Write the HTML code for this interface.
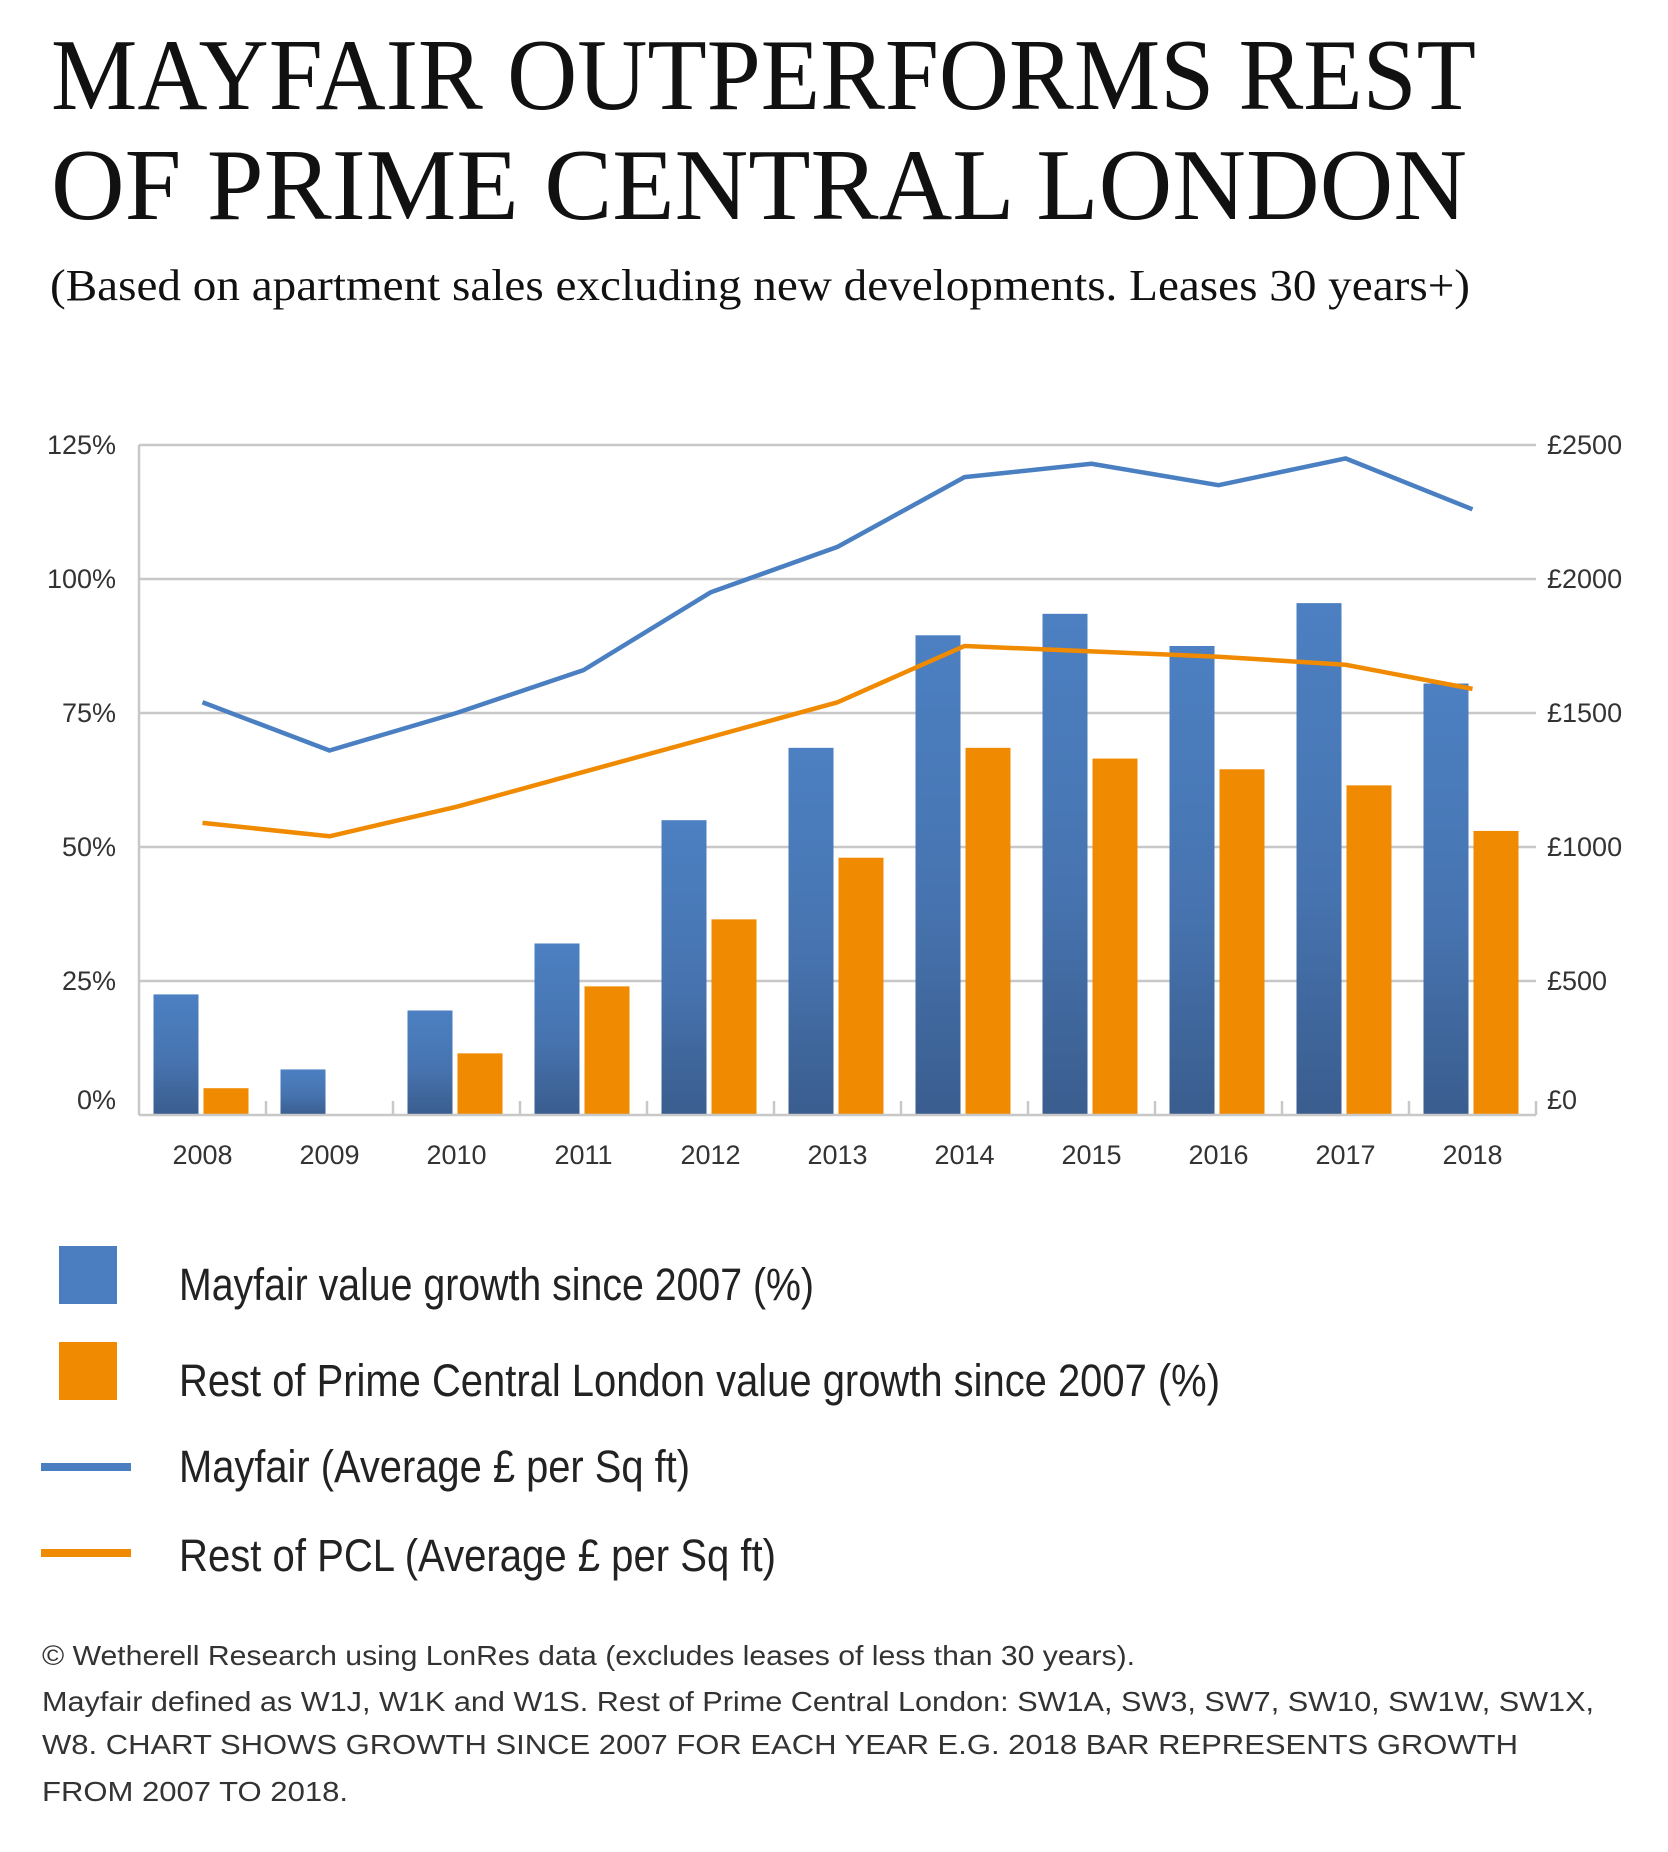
<!DOCTYPE html>
<html><head><meta charset="utf-8"><style>
html,body{margin:0;padding:0;background:#fff}
svg{display:block}
</style></head><body>
<svg width="1668" height="1852" viewBox="0 0 1668 1852" xmlns="http://www.w3.org/2000/svg">
<defs>
<linearGradient id="bg" x1="0" y1="0" x2="0" y2="1">
<stop offset="0" stop-color="#4c80c2"/><stop offset="0.55" stop-color="#4774b0"/><stop offset="1" stop-color="#3a5d8e"/>
</linearGradient>
</defs>
<g font-family="Liberation Serif, serif" fill="#111">
<text x="51" y="109" font-size="102" textLength="1425" lengthAdjust="spacingAndGlyphs">MAYFAIR OUTPERFORMS REST</text>
<text x="51" y="219" font-size="102" textLength="1416" lengthAdjust="spacingAndGlyphs">OF PRIME CENTRAL LONDON</text>
<text x="50" y="300" font-size="44" textLength="1420" lengthAdjust="spacingAndGlyphs">(Based on apartment sales excluding new developments. Leases 30 years+)</text>
</g>
<g stroke="#c8c8c8" stroke-width="2.5">
<line x1="139" y1="445" x2="1536" y2="445"/>
<line x1="139" y1="579" x2="1536" y2="579"/>
<line x1="139" y1="713" x2="1536" y2="713"/>
<line x1="139" y1="847" x2="1536" y2="847"/>
<line x1="139" y1="981" x2="1536" y2="981"/>
</g>
<g id="bars"></g>
<g stroke="#c8c8c8" stroke-width="2.5">
<line x1="139" y1="1115" x2="1536" y2="1115"/>
<line x1="139" y1="445" x2="139" y2="1115"/>
<line x1="1536" y1="1101" x2="1536" y2="1115"/>
</g>
<g font-family="Liberation Sans, sans-serif" font-size="27" fill="#333" text-anchor="end">
<text x="116" y="454">125%</text><text x="116" y="588">100%</text><text x="116" y="722">75%</text>
<text x="116" y="856">50%</text><text x="116" y="990">25%</text><text x="116" y="1109">0%</text>
</g>
<g font-family="Liberation Sans, sans-serif" font-size="27" fill="#333">
<text x="1547" y="454">£2500</text><text x="1547" y="588">£2000</text><text x="1547" y="722">£1500</text>
<text x="1547" y="856">£1000</text><text x="1547" y="990">£500</text><text x="1547" y="1109">£0</text>
</g>
<g id="years" font-family="Liberation Sans, sans-serif" font-size="27" fill="#333" text-anchor="middle"></g>
<polyline id="ml" fill="none" stroke="#4a7fc1" stroke-width="4.5" stroke-linejoin="round"/>
<polyline id="ol" fill="none" stroke="#f08a00" stroke-width="4.5" stroke-linejoin="round"/>
<rect x="59" y="1246" width="58" height="58" fill="#4a7ec0"/>
<rect x="59" y="1342" width="58" height="58" fill="#f08a00"/>
<rect x="41" y="1463" width="90" height="8" fill="#4a7ec0"/>
<rect x="41" y="1549" width="90" height="8" fill="#f08a00"/>
<g font-family="Liberation Sans, sans-serif" font-size="45" fill="#222">
<text x="179" y="1300" textLength="635" lengthAdjust="spacingAndGlyphs">Mayfair value growth since 2007 (%)</text>
<text x="179" y="1396" textLength="1041" lengthAdjust="spacingAndGlyphs">Rest of Prime Central London value growth since 2007 (%)</text>
<text x="179" y="1482" textLength="511" lengthAdjust="spacingAndGlyphs">Mayfair (Average £ per Sq ft)</text>
<text x="179" y="1571" textLength="597" lengthAdjust="spacingAndGlyphs">Rest of PCL (Average £ per Sq ft)</text>
</g>
<g font-family="Liberation Sans, sans-serif" font-size="28" fill="#333">
<text x="42" y="1665" textLength="1093" lengthAdjust="spacingAndGlyphs">© Wetherell Research using LonRes data (excludes leases of less than 30 years).</text>
<text x="42" y="1711" textLength="1552" lengthAdjust="spacingAndGlyphs">Mayfair defined as W1J, W1K and W1S. Rest of Prime Central London: SW1A, SW3, SW7, SW10, SW1W, SW1X,</text>
<text x="42" y="1754" textLength="1476" lengthAdjust="spacingAndGlyphs">W8. CHART SHOWS GROWTH SINCE 2007 FOR EACH YEAR E.G. 2018 BAR REPRESENTS GROWTH</text>
<text x="42" y="1801" textLength="306" lengthAdjust="spacingAndGlyphs">FROM 2007 TO 2018.</text>
</g>
<script>
var ns="http://www.w3.org/2000/svg";
var blue=[22.5,8.5,19.5,32,55,68.5,89.5,93.5,87.5,95.5,80.5];
var org=[5,0,11.5,24,36.5,48,68.5,66.5,64.5,61.5,53];
var ml=[77,68,75,83,97.5,106,119,121.5,117.5,122.5,113];
var ol=[54.5,52,57.5,64,70.5,77,87.5,86.5,85.5,84,79.5];
var g=document.getElementById('bars'),yg=document.getElementById('years');
var w=1397/11,base=1115,k=5.36,mp=[],op=[];
for(var i=0;i<11;i++){
 var c=139+w*(i+0.5);
 var r=document.createElementNS(ns,'rect');r.setAttribute('x',c-49);r.setAttribute('width',45);
 r.setAttribute('y',base-blue[i]*k);r.setAttribute('height',blue[i]*k);r.setAttribute('fill','url(#bg)');g.appendChild(r);
 if(org[i]>0){r=document.createElementNS(ns,'rect');r.setAttribute('x',c+1);r.setAttribute('width',45);
 r.setAttribute('y',base-org[i]*k);r.setAttribute('height',org[i]*k);r.setAttribute('fill','#f08a00');g.appendChild(r);}
 if(i>0){var l=document.createElementNS(ns,'line');var xx=139+w*i;l.setAttribute('x1',xx);l.setAttribute('x2',xx);l.setAttribute('y1',1101);l.setAttribute('y2',1115);l.setAttribute('stroke','#c8c8c8');l.setAttribute('stroke-width','2.5');g.appendChild(l);}
 var t=document.createElementNS(ns,'text');t.setAttribute('x',c);t.setAttribute('y',1164);t.textContent=2008+i;yg.appendChild(t);
 mp.push(c+','+(base-ml[i]*k));op.push(c+','+(base-ol[i]*k));
}
document.getElementById('ml').setAttribute('points',mp.join(' '));
document.getElementById('ol').setAttribute('points',op.join(' '));
</script>
</svg>
</body></html>
